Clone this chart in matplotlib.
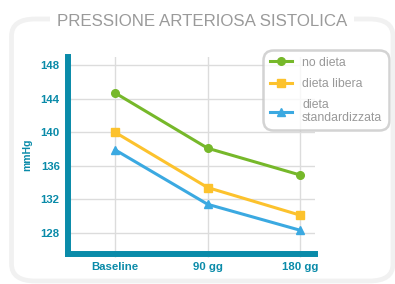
import matplotlib
matplotlib.use("Agg")
import matplotlib.pyplot as plt
from matplotlib import font_manager
from matplotlib.patches import FancyBboxPatch

categories = ["Baseline", "90 gg", "180 gg"]
no_dieta = [144.7, 138.1, 134.9]
dieta_libera = [140.0, 133.4, 130.1]
dieta_std = [137.9, 131.4, 128.3]
yticks = [128, 132, 136, 140, 144, 148]
series_labels = ["no dieta", "dieta libera", "dieta\nstandardizzata"]
title = "PRESSIONE ARTERIOSA SISTOLICA"
ylabel = "mmHg"

names = {f.name for f in font_manager.fontManager.ttflist}
narrow = "Liberation Sans Narrow" if "Liberation Sans Narrow" in names else "Liberation Sans"

TEAL = "#0a8ba9"
GREEN = "#76b82a"
YELLOW = "#fcc22d"
BLUE = "#3ba9e1"
GRID = "#dcdcdc"

fig = plt.figure(figsize=(3.95, 2.84), dpi=100)
W, H = 395, 284

# outer rounded frame
frame = FancyBboxPatch((11.5 / W, 1 - 281 / H), (393 - 11.5) / W, (281 - 19) / H,
                       boxstyle="round,pad=0,rounding_size=0.06",
                       transform=fig.transFigure, facecolor="none",
                       edgecolor="#f1f1f1", linewidth=3.4, zorder=0)
fig.patches.append(frame)

fig.text(202 / W, 1 - 21.5 / H, title, ha="center", va="center",
         fontsize=12.2, color="#9a9a9a", family=narrow,
         bbox=dict(facecolor="white", edgecolor="none", pad=5))

ax = fig.add_axes([68 / W, 1 - 253.7 / H, (315 - 68) / W, (253.7 - 57) / H])
x = list(range(len(categories)))
ax.plot(x, no_dieta, color=GREEN, lw=2.2, marker="o", ms=5.5, label=series_labels[0], zorder=3)
ax.plot(x, dieta_libera, color=YELLOW, lw=2.2, marker="s", ms=5.5, label=series_labels[1], zorder=3)
ax.plot(x, dieta_std, color=BLUE, lw=2.2, marker="^", ms=6, label=series_labels[2], zorder=3)

ax.set_xlim(-0.51, 2.16)
ax.set_ylim(125.5, 149)
ax.set_xticks(x)
ax.set_xticklabels(categories)
ax.set_yticks(yticks)
ax.grid(True, color=GRID, lw=1)
ax.set_axisbelow(True)
for s in ["top", "right"]:
    ax.spines[s].set_visible(False)
for s in ["left", "bottom"]:
    ax.spines[s].set_color(TEAL)
    ax.spines[s].set_linewidth(4.3)
ax.tick_params(axis="both", colors=GRID, length=4, width=1, direction="inout",
               labelcolor=TEAL, labelsize=8.2)
ax.tick_params(axis="y", pad=4)
ax.tick_params(axis="x", pad=4)
for lab in ax.get_xticklabels() + ax.get_yticklabels():
    lab.set_family(narrow)
    lab.set_fontweight("bold")

fig.text(27 / W, 1 - 155 / H, ylabel, rotation=90, ha="center", va="center",
         color=TEAL, fontsize=7.5, fontweight="bold", family=narrow)

leg = ax.legend(loc="upper right", bbox_to_anchor=(389 / W, 1 - 50 / H),
                bbox_transform=fig.transFigure, frameon=True, fancybox=True,
                prop=dict(family=narrow, size=8.8), labelcolor="#999999",
                handlelength=1.85, handletextpad=0.8, borderpad=0.55,
                labelspacing=0.75, borderaxespad=0)
for t in leg.get_texts():
    t.set_linespacing(1.05)
fr = leg.get_frame()
fr.set_edgecolor("#c8c8c8")
fr.set_linewidth(1.8)
fr.set_boxstyle("round,pad=0,rounding_size=0.8")

fig.savefig("out.png", dpi=100)
